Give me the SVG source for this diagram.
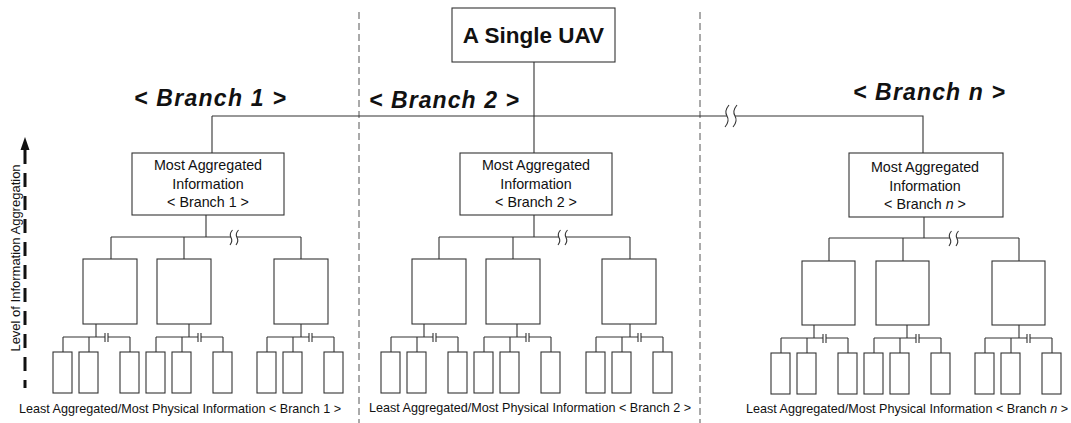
<svg xmlns="http://www.w3.org/2000/svg" width="1071" height="423" viewBox="0 0 1071 423">
<style>
.ln{stroke:#333;stroke-width:1.1;fill:none}
.brk{stroke:#333;stroke-width:1.1;fill:none}
.box{fill:#fff;stroke:#333;stroke-width:1.1}
.div{stroke:#555;stroke-width:1;stroke-dasharray:7 4;fill:none}
.t{font-family:"Liberation Sans",Arial,sans-serif;fill:#111;text-anchor:middle}
.hdr{font-size:23px;font-weight:bold;font-style:italic}
.inf{font-size:14.3px}
.bot{font-size:12.6px}
</style>
<rect width="1071" height="423" fill="#fff"/>

<g id="dividers">
<line class="div" x1="359" y1="12" x2="359" y2="423"/>
<line class="div" x1="700" y1="12" x2="700" y2="423"/>
</g>

<g id="axis">
<polygon points="25,137 20.5,150 29.5,150" fill="#111"/>
<line x1="25" y1="150" x2="25" y2="388" stroke="#111" stroke-width="3" stroke-dasharray="14 9"/>
<text class="t" font-size="13" transform="translate(20,258) rotate(-90)">Level of Information Aggregation</text>
</g>

<g id="connectors">
<!-- top level -->
<path class="ln" d="M534,62 V153 M212,116 V153 M212,116 H727 M735,116 H923 V153"/>
<path class="brk" d="M729,105 Q724,111 727,116 Q730,121 725,127 M737,105 Q732,111 735,116 Q738,121 733,127"/>
<!-- branch 1 mid level -->
<path class="ln" d="M206,215 V237 M111,237 H231 M237,237 H301 M111,237 V259 M184,237 V259 M301,237 V259"/>
<path class="brk" d="M232.5,230 Q229,234 231,237.5 Q233,241 230,245 M238.5,230 Q235,234 237,237.5 Q239,241 236,245"/>
<!-- branch 2 mid level -->
<path class="ln" d="M534,215 V237 M439,237 H559 M566,237 H630 M439,237 V259 M513,237 V259 M630,237 V259"/>
<path class="brk" d="M560.5,230 Q557,234 559,237.5 Q561,241 558,245 M567.5,230 Q564,234 566,237.5 Q568,241 565,245"/>
<!-- branch n mid level -->
<path class="ln" d="M924,217 V238 M829,238 H950 M957,238 H1019 M829,238 V261 M903,238 V261 M1019,238 V261"/>
<path class="brk" d="M951.5,231 Q948,235 950,238.5 Q952,242 949,246 M958.5,231 Q955,235 957,238.5 Q959,242 956,246"/>
<!-- branch 1 leaf level -->
<path class="ln" d="M96,324 V337 M63,337 H105 M108,337 H130 M63,337 V352 M89,337 V352 M130,337 V352"/>
<path class="brk" d="M105,333 V342 M108,333 V342"/>
<path class="ln" d="M189,324 V337 M156,337 H198 M201,337 H223 M156,337 V352 M182,337 V352 M223,337 V352"/>
<path class="brk" d="M198,333 V342 M201,333 V342"/>
<path class="ln" d="M301,324 V337 M267,337 H309 M312,337 H334 M267,337 V352 M293,337 V352 M334,337 V352"/>
<path class="brk" d="M309,333 V342 M312,333 V342"/>
<!-- branch 2 leaf level -->
<path class="ln" d="M424,324 V337 M391,337 H433 M436,337 H458 M391,337 V352 M417,337 V352 M458,337 V352"/>
<path class="brk" d="M433,333 V342 M436,333 V342"/>
<path class="ln" d="M517,324 V337 M484,337 H526 M529,337 H551 M484,337 V352 M510,337 V352 M551,337 V352"/>
<path class="brk" d="M526,333 V342 M529,333 V342"/>
<path class="ln" d="M630,324 V337 M596,337 H638 M641,337 H663 M596,337 V352 M622,337 V352 M663,337 V352"/>
<path class="brk" d="M638,333 V342 M641,333 V342"/>
<!-- branch n leaf level -->
<path class="ln" d="M814,325 V338 M781,338 H823 M826,338 H848 M781,338 V353 M807,338 V353 M848,338 V353"/>
<path class="brk" d="M823,334 V343 M826,334 V343"/>
<path class="ln" d="M907,325 V338 M874,338 H916 M919,338 H941 M874,338 V353 M900,338 V353 M941,338 V353"/>
<path class="brk" d="M916,334 V343 M919,334 V343"/>
<path class="ln" d="M1019,325 V338 M985,338 H1027 M1030,338 H1052 M985,338 V353 M1011,338 V353 M1052,338 V353"/>
<path class="brk" d="M1027,334 V343 M1030,334 V343"/>
</g>

<g id="uav">
<rect class="box" x="452" y="8" width="163" height="54"/>
<text class="t" x="533.5" y="43" font-size="22.5" font-weight="bold">A Single UAV</text>
</g>

<g id="headers">
<text class="t hdr" x="210" y="106" textLength="152" lengthAdjust="spacing">&lt; Branch 1 &gt;</text>
<text class="t hdr" x="444" y="108" textLength="150" lengthAdjust="spacing">&lt; Branch 2 &gt;</text>
<text class="t hdr" x="929" y="100" textLength="152" lengthAdjust="spacing">&lt; Branch n &gt;</text>
</g>

<g id="branch1-top">
<rect class="box" x="132" y="153" width="152" height="62"/>
<text class="t inf" x="208" y="170">Most Aggregated</text>
<text class="t inf" x="208" y="188.5">Information</text>
<text class="t inf" x="208" y="207">&lt; Branch 1 &gt;</text>
</g>
<g id="branch2-top">
<rect class="box" x="460" y="153" width="152" height="62"/>
<text class="t inf" x="536" y="170">Most Aggregated</text>
<text class="t inf" x="536" y="188.5">Information</text>
<text class="t inf" x="536" y="207">&lt; Branch 2 &gt;</text>
</g>
<g id="branchn-top">
<rect class="box" x="849" y="153" width="154" height="64"/>
<text class="t inf" x="925" y="172">Most Aggregated</text>
<text class="t inf" x="925" y="190.5">Information</text>
<text class="t inf" x="925" y="209">&lt; Branch <tspan font-style="italic">n</tspan> &gt;</text>
</g>

<g id="branch1-mid">
<rect class="box" x="83" y="259" width="54" height="65"/>
<rect class="box" x="157" y="259" width="54" height="65"/>
<rect class="box" x="274" y="259" width="54" height="65"/>
</g>
<g id="branch2-mid">
<rect class="box" x="412" y="259" width="54" height="65"/>
<rect class="box" x="486" y="259" width="54" height="65"/>
<rect class="box" x="602" y="259" width="54" height="65"/>
</g>
<g id="branchn-mid">
<rect class="box" x="802" y="261" width="53" height="64"/>
<rect class="box" x="876" y="261" width="53" height="64"/>
<rect class="box" x="992" y="261" width="53" height="64"/>
</g>

<g id="branch1-leaves">
<rect class="box" x="53" y="352" width="19" height="41"/>
<rect class="box" x="79" y="352" width="19" height="41"/>
<rect class="box" x="120" y="352" width="19" height="41"/>
<rect class="box" x="146" y="352" width="19" height="41"/>
<rect class="box" x="172" y="352" width="19" height="41"/>
<rect class="box" x="213" y="352" width="19" height="41"/>
<rect class="box" x="257" y="352" width="19" height="41"/>
<rect class="box" x="283" y="352" width="19" height="41"/>
<rect class="box" x="324" y="352" width="19" height="41"/>
</g>
<g id="branch2-leaves">
<rect class="box" x="381" y="352" width="19" height="41"/>
<rect class="box" x="407" y="352" width="19" height="41"/>
<rect class="box" x="448" y="352" width="19" height="41"/>
<rect class="box" x="474" y="352" width="19" height="41"/>
<rect class="box" x="500" y="352" width="19" height="41"/>
<rect class="box" x="541" y="352" width="19" height="41"/>
<rect class="box" x="586" y="352" width="19" height="41"/>
<rect class="box" x="612" y="352" width="19" height="41"/>
<rect class="box" x="653" y="352" width="19" height="41"/>
</g>
<g id="branchn-leaves">
<rect class="box" x="771" y="353" width="19" height="41"/>
<rect class="box" x="797" y="353" width="19" height="41"/>
<rect class="box" x="838" y="353" width="19" height="41"/>
<rect class="box" x="864" y="353" width="19" height="41"/>
<rect class="box" x="890" y="353" width="19" height="41"/>
<rect class="box" x="931" y="353" width="19" height="41"/>
<rect class="box" x="975" y="353" width="19" height="41"/>
<rect class="box" x="1001" y="353" width="19" height="41"/>
<rect class="box" x="1042" y="353" width="19" height="41"/>
</g>

<g id="bottom-labels">
<text class="t bot" x="180" y="413">Least Aggregated/Most Physical Information &lt; Branch 1 &gt;</text>
<text class="t bot" x="530" y="412">Least Aggregated/Most Physical Information &lt; Branch 2 &gt;</text>
<text class="t bot" x="907" y="413">Least Aggregated/Most Physical Information &lt; Branch <tspan font-style="italic">n</tspan> &gt;</text>
</g>
</svg>
